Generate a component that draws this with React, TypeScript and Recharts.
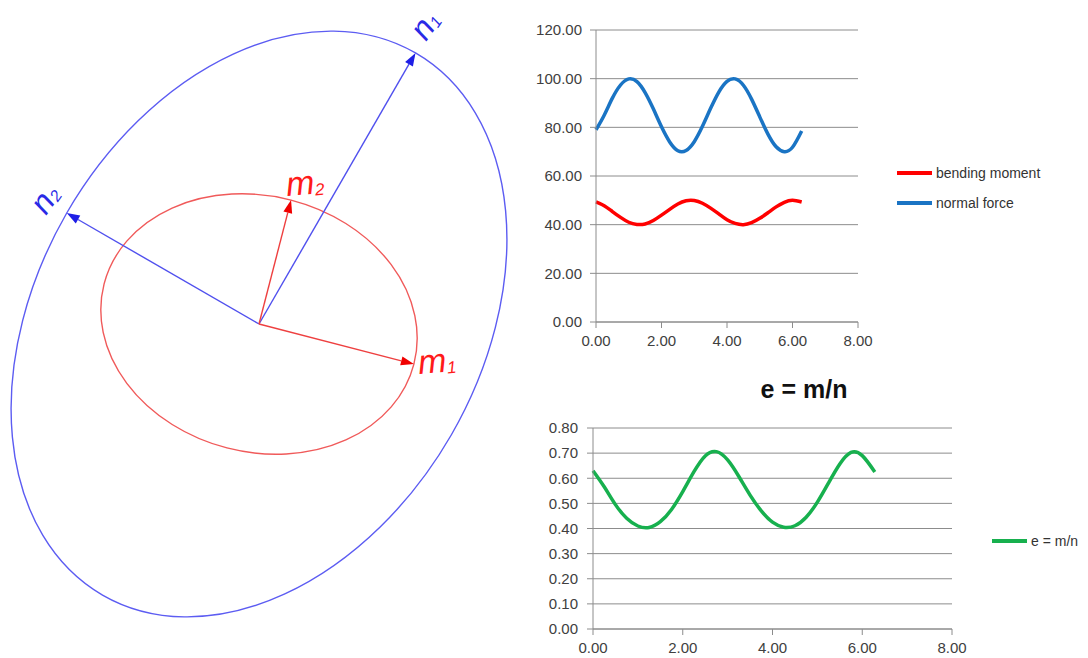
import React from "react";
import { CartesianGrid, Legend, Line, LineChart, XAxis, YAxis } from "recharts";

// angle (rad) sampled along the section
const angles = [
  0, 0.25, 0.5, 0.75, 1, 1.25, 1.5, 1.75, 2, 2.25, 2.5, 2.75, 3, 3.25, 3.5, 3.75, 4, 4.25, 4.5, 4.75, 5, 5.25,
  5.5, 5.75, 6, 6.28,
];

const bendingMoment = [
  49.4, 47.8, 45.4, 43.0, 41.0, 40.1, 40.3, 41.7, 43.9, 46.3, 48.5, 49.8, 49.9, 48.8, 46.8, 44.4, 42.0, 40.5, 40.0,
  40.8, 42.6, 44.9, 47.3, 49.2, 50.0, 49.3,
];

const normalForce = [
  79.0, 85.0, 92.0, 97.4, 99.9, 98.8, 94.3, 87.6, 80.2, 74.0, 70.4, 70.5, 74.1, 80.4, 87.8, 94.5, 98.9, 99.9, 97.3,
  91.6, 84.3, 77.2, 72.0, 70.0, 71.8, 78.5,
];

const eccentricity = [
  0.63, 0.566, 0.495, 0.441, 0.41, 0.404, 0.427, 0.476, 0.547, 0.626, 0.689, 0.706, 0.673, 0.607, 0.533, 0.47, 0.425,
  0.405, 0.411, 0.445, 0.505, 0.582, 0.657, 0.703, 0.69, 0.625,
];

const angleTicks = [0, 2, 4, 6, 8];
const forceTicks = [0, 20, 40, 60, 80, 100, 120];
const ratioTicks = [0, 0.1, 0.2, 0.3, 0.4, 0.5, 0.6, 0.7, 0.8];

const forceRows = angles.map((a, i) => ({ a, m: bendingMoment[i], n: normalForce[i] }));
const ratioRows = angles.map((a, i) => ({ a, e: eccentricity[i] }));

const FONT = '"Liberation Sans", Arial, sans-serif';
const GRID = "#8c8c8c";
const tickStyle = { fill: "#404040", fontSize: 15, fontFamily: FONT };
const fmt = (v: number) => Number(v).toFixed(2);

function LegendRows(props: any) {
  const items = props.payload ?? [];
  return (
    <div style={{ fontFamily: FONT, fontSize: 14, color: "#333" }}>
      {items.map((it: any) => (
        <div key={it.value} style={{ display: "flex", alignItems: "center", height: 30 }}>
          <span style={{ display: "inline-block", width: 35, height: 4, background: it.color, marginRight: 4 }} />
          <span>{it.value}</span>
        </div>
      ))}
    </div>
  );
}

// ---- ellipse diagram ----
const center = { x: 259, y: 324 };
const outer = { rx: 313, ry: 222, tilt: -60 };
const inner = { rx: 160, ry: 128, tilt: 14.5 };

function axisTip(len: number, deg: number) {
  const r = (deg * Math.PI) / 180;
  return { x: center.x + len * Math.cos(r), y: center.y + len * Math.sin(r) };
}

function Arrow({ to, line, head }: { to: { x: number; y: number }; line: string; head: string }) {
  const dx = to.x - center.x;
  const dy = to.y - center.y;
  const len = Math.hypot(dx, dy);
  const ux = dx / len;
  const uy = dy / len;
  const bx = to.x - 13 * ux;
  const by = to.y - 13 * uy;
  const px = -uy * 4.5;
  const py = ux * 4.5;
  return (
    <g>
      <line x1={center.x} y1={center.y} x2={bx} y2={by} stroke={line} strokeWidth={1.4} />
      <polygon points={`${to.x},${to.y} ${bx + px},${by + py} ${bx - px},${by - py}`} fill={head} />
    </g>
  );
}

function AxisLabel({ x, y, rot, name, sub, size, color }: any) {
  return (
    <text
      x={x}
      y={y}
      transform={`rotate(${rot} ${x} ${y})`}
      fill={color}
      fontFamily={FONT}
      fontStyle="italic"
      fontSize={size}
    >
      {name}
      <tspan fontSize={size * 0.5} dy={2}>
        {sub}
      </tspan>
    </text>
  );
}

function Diagram() {
  const n1 = axisTip(outer.rx, outer.tilt);
  const n2 = axisTip(outer.ry, outer.tilt - 90);
  const m1 = axisTip(inner.rx, inner.tilt);
  const m2 = axisTip(inner.ry, inner.tilt - 90);
  return (
    <svg width={520} height={658} style={{ position: "absolute", left: 0, top: 0 }}>
      <ellipse
        cx={center.x}
        cy={center.y}
        rx={outer.rx}
        ry={outer.ry}
        transform={`rotate(${outer.tilt} ${center.x} ${center.y})`}
        fill="none"
        stroke="#5c5cf2"
        strokeWidth={1.4}
      />
      <ellipse
        cx={center.x}
        cy={center.y}
        rx={inner.rx}
        ry={inner.ry}
        transform={`rotate(${inner.tilt} ${center.x} ${center.y})`}
        fill="none"
        stroke="#f05a5a"
        strokeWidth={1.4}
      />
      <Arrow to={n1} line="#5050ee" head="#1e1ee6" />
      <Arrow to={n2} line="#5050ee" head="#1e1ee6" />
      <Arrow to={m1} line="#ee4040" head="#f00000" />
      <Arrow to={m2} line="#ee4040" head="#f00000" />
      <AxisLabel x={426} y={42} rot={-55} name="n" sub="1" size={32} color="#2a2ae6" />
      <AxisLabel x={46} y={216} rot={-55} name="n" sub="2" size={32} color="#2a2ae6" />
      <AxisLabel x={287} y={196} rot={-5} name="m" sub="2" size={34} color="#ff1a1a" />
      <AxisLabel x={419} y={374} rot={-5} name="m" sub="1" size={34} color="#ff1a1a" />
    </svg>
  );
}

export default function App() {
  return (
    <div style={{ position: "absolute", left: 0, top: 0, width: 1088, height: 658, background: "#fff" }}>
      <Diagram />

      <div style={{ position: "absolute", left: 520, top: 0 }}>
        <LineChart width={568} height={360} data={forceRows} margin={{ top: 30, right: 230, bottom: 8, left: 0 }}>
          <CartesianGrid vertical={false} stroke={GRID} />
          <XAxis
            dataKey="a"
            type="number"
            domain={[0, 8]}
            ticks={angleTicks}
            tickFormatter={fmt}
            tick={tickStyle}
            stroke={GRID}
            tickSize={6}
            tickMargin={7}
            height={30}
          />
          <YAxis
            type="number"
            domain={[0, 120]}
            ticks={forceTicks}
            tickFormatter={fmt}
            tick={tickStyle}
            stroke={GRID}
            tickSize={6}
            tickMargin={8}
            width={76}
          />
          <Legend
            layout="horizontal"
            verticalAlign="middle"
            align="center"
            width={180}
            content={LegendRows}
            wrapperStyle={{ left: 377, top: 158 }}
          />
          <Line
            dataKey="m"
            name="bending moment"
            type="natural"
            stroke="#ff0000"
            strokeWidth={3.5}
            dot={false}
            activeDot={false}
            isAnimationActive={false}
          />
          <Line
            dataKey="n"
            name="normal force"
            type="natural"
            stroke="#1a74c4"
            strokeWidth={3.5}
            dot={false}
            activeDot={false}
            isAnimationActive={false}
          />
        </LineChart>
      </div>

      <div
        style={{
          position: "absolute",
          left: 520,
          top: 375,
          width: 568,
          textAlign: "center",
          fontFamily: FONT,
          fontWeight: 700,
          fontSize: 25,
          color: "#111",
        }}
      >
        e = m/n
      </div>

      <div style={{ position: "absolute", left: 520, top: 370 }}>
        <LineChart width={568} height={288} data={ratioRows} margin={{ top: 58, right: 136, bottom: 0, left: 0 }}>
          <CartesianGrid vertical={false} stroke={GRID} />
          <XAxis
            dataKey="a"
            type="number"
            domain={[0, 8]}
            ticks={angleTicks}
            tickFormatter={fmt}
            tick={tickStyle}
            stroke={GRID}
            tickSize={6}
            tickMargin={7}
            height={29}
          />
          <YAxis
            type="number"
            domain={[0, 0.8]}
            ticks={ratioTicks}
            tickFormatter={fmt}
            tick={tickStyle}
            stroke={GRID}
            tickSize={6}
            tickMargin={9}
            width={73}
          />
          <Legend
            layout="horizontal"
            verticalAlign="middle"
            align="center"
            width={110}
            content={LegendRows}
            wrapperStyle={{ left: 472, top: 156 }}
          />
          <Line
            dataKey="e"
            name="e = m/n"
            type="natural"
            stroke="#17b04e"
            strokeWidth={3.5}
            dot={false}
            activeDot={false}
            isAnimationActive={false}
          />
        </LineChart>
      </div>
    </div>
  );
}
